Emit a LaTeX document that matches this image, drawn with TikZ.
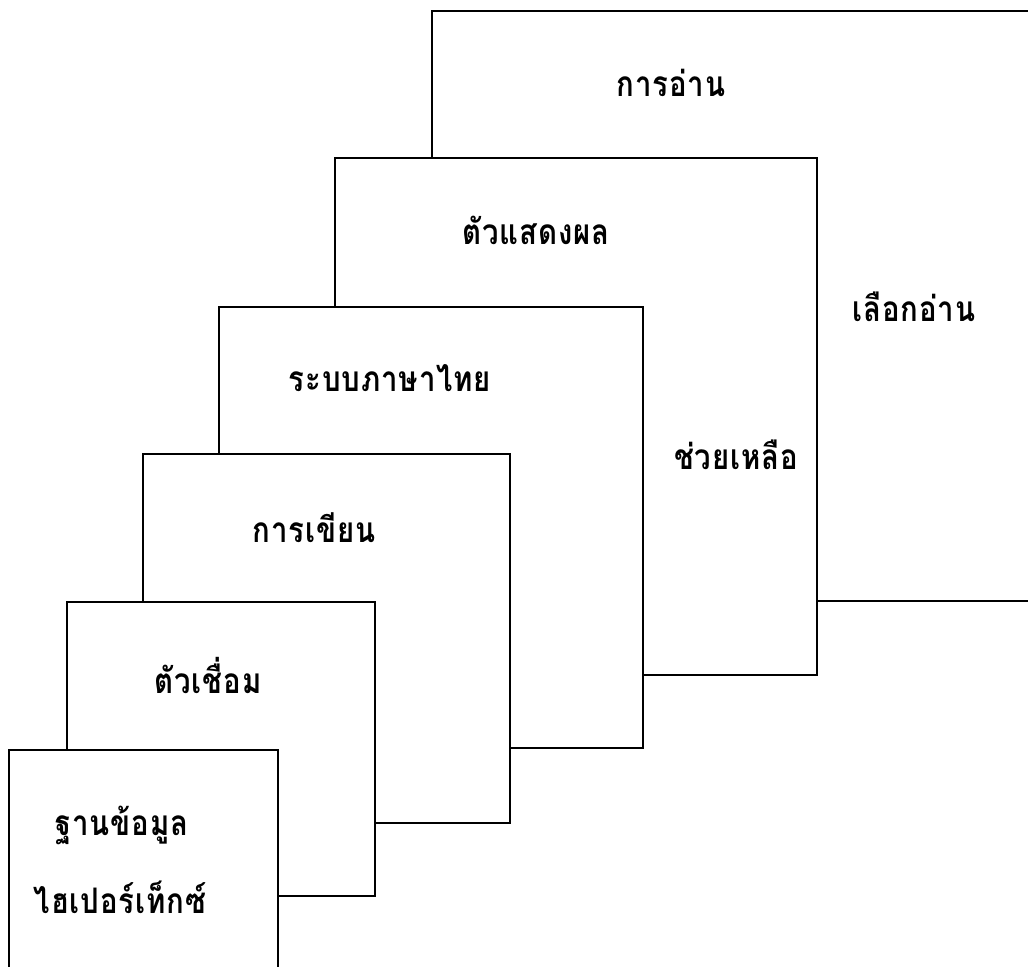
\documentclass[tikz,border=0pt]{standalone}
\usepackage{fontspec}
\usepackage{graphicx}
\newfontfamily\thaifont[Script=Thai,LetterSpace=3]{Loma}
% slightly tall lettering for the panel titles
\newcommand{\paneltitle}[1]{\scalebox{1}[1.2]{#1}}
\begin{document}
\begin{tikzpicture}[x=0.75pt,y=-0.75pt,
  panel/.style={draw=black, line width=1.6pt, fill=white},
  lbl/.style={font=\thaifont\bfseries\fontsize{22}{26}\selectfont, inner sep=0pt, text=black}]
  \useasboundingbox (0,0) rectangle (1028,967);
  \clip (0,0) rectangle (1028,967);
  % stacked panels, back to front
  \draw[panel] (432,11)  rectangle (1045,601);
  \draw[panel] (335,158) rectangle (817,675);
  \draw[panel] (219,307) rectangle (643,748);
  \draw[panel] (143,454) rectangle (510,823);
  \draw[panel] (67,602)  rectangle (375,896);
  \draw[panel] (9,750)   rectangle (278,990);
  % panel titles
  \node[lbl] (read)    at (671,83)  {\paneltitle{การอ่าน}};
  \node[lbl] (display) at (536,230) {\paneltitle{ตัวแสดงผล}};
  \node[lbl] (choose)  at (914,307) {\paneltitle{เลือกอ่าน}};
  \node[lbl] (thai)    at (390,378) {\paneltitle{ระบบภาษาไทย}};
  \node[lbl] (help)    at (736,455) {\paneltitle{ช่วยเหลือ}};
  \node[lbl] (write)   at (314,528) {\paneltitle{การเขียน}};
  \node[lbl] (link)    at (208,675) {\paneltitle{ตัวเชื่อม}};
  \node[lbl] (db)      at (122,825) {\paneltitle{ฐานข้อมูล}};
  \node[lbl] (hyper)   at (120,897) {\paneltitle{ไฮเปอร์เท็กซ์}};
\end{tikzpicture}
\end{document}
